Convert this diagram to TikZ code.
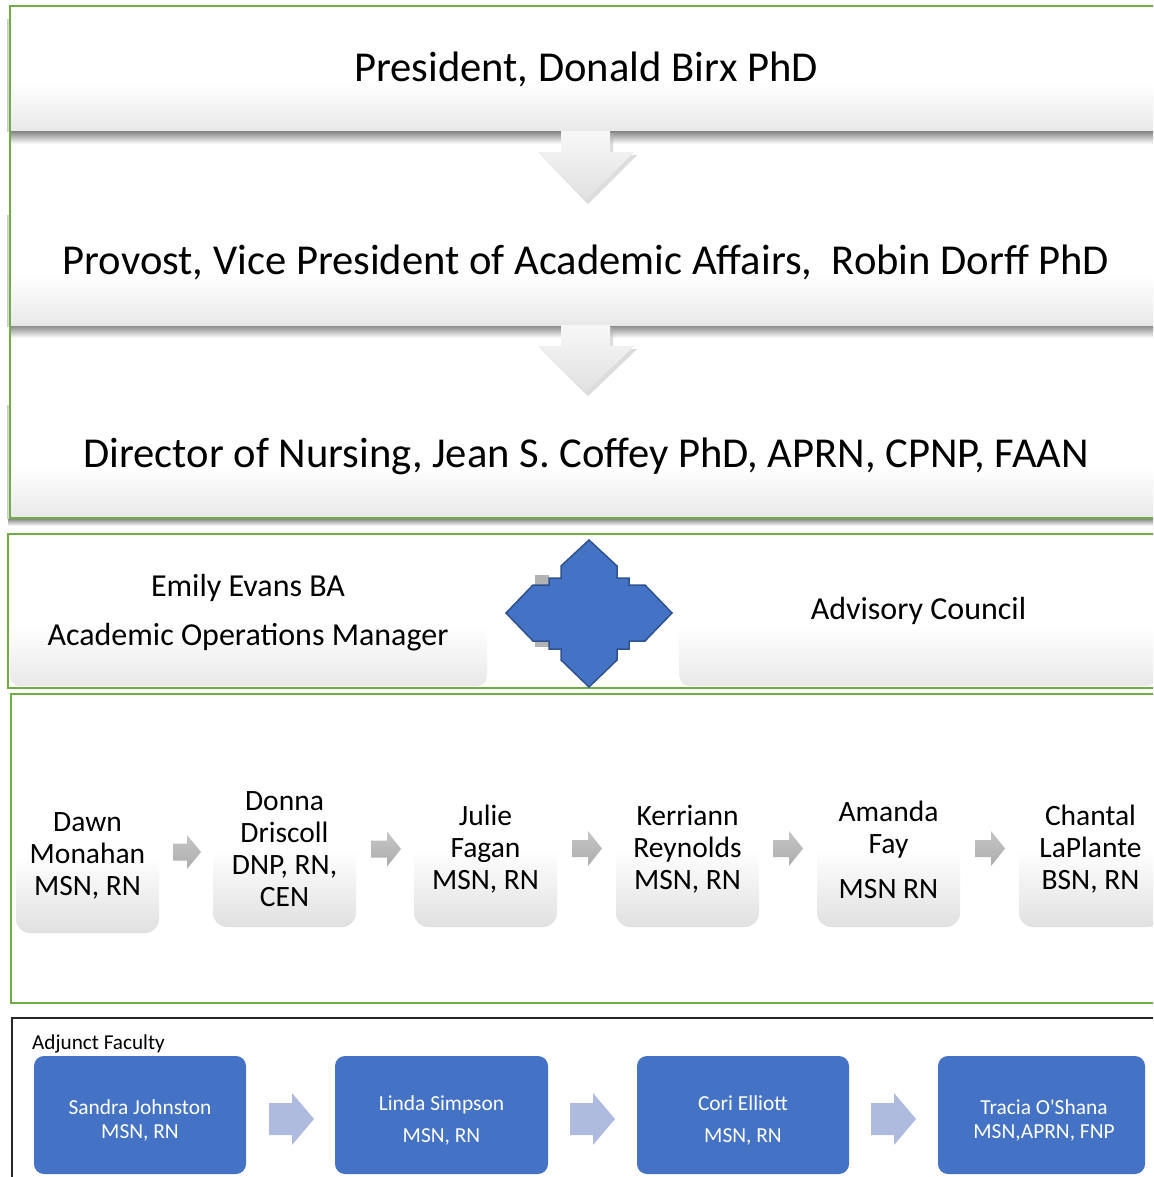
\documentclass[tikz,border=0pt]{standalone}
\usepackage{fontspec}
\setmainfont{Carlito}
\newfontfamily\carlplain{Carlito}
\usetikzlibrary{calc}
\definecolor{grn}{HTML}{70AD47}
\definecolor{blu}{HTML}{4472C4}
\definecolor{bluedge}{HTML}{2F528F}
\definecolor{lblu}{HTML}{AEBBDF}
\definecolor{bgray}{HTML}{E8E8E8}
\definecolor{fgray}{HTML}{E0E0E0}
\pgfdeclareverticalshading{boxshade}{100bp}{color(0bp)=(bgray); color(25bp)=(bgray); color(45bp)=(white); color(100bp)=(white)}
\pgfdeclareverticalshading{facshade}{100bp}{color(0bp)=(fgray); color(25bp)=(fgray); color(52bp)=(white); color(100bp)=(white)}
\pgfdeclareverticalshading{shadowshade}{100bp}{color(0bp)=(white); color(25bp)=(white); color(75bp)=(gray!90); color(100bp)=(gray!90)}
\newcommand{\blockarr}[8]{% #1 style, #2 name, #3 x0, #4 yc, #5 length, #6 shaft half, #7 head half, #8 head length
  \coordinate (#2) at (#3,#4);
  \path[#1] (#2) ++(0,-#6) -- ++({#5-#8},0) -- ++(0,{#6-#7}) -- ++(#8,#7) -- ++(-#8,#7) -- ++(0,{#6-#7}) -- ++({#8-#5},0) -- cycle;
}
\begin{document}
\begin{tikzpicture}[x=1pt,y=-1pt,
  grnframe/.style={draw=grn,line width=2.2pt},
  topbox/.style={shade,shading=boxshade,minimum width=1152,inner sep=0pt},
  toptext/.style={anchor=base,inner sep=0pt,font=\fontsize{42.6}{50}\selectfont},
  midbox/.style={shade,shading=boxshade,rounded corners=10,minimum width=477,minimum height=150,inner sep=0pt},
  midtext/.style={align=center,inner sep=0pt,font=\fontsize{32}{49}\selectfont},
  facbox/.style={shade,shading=facshade,rounded corners=14,minimum width=143,minimum height=143,inner sep=0pt},
  factext/.style={font=\fontsize{29.5}{32}\selectfont,align=center,inner sep=0pt},
  adjbox/.style={fill=blu,rounded corners=10,inner sep=0pt},
  adjtext/.style={text=white,font=\fontsize{21.4}{24}\selectfont,align=center,inner sep=0pt},
  garr/.style={top color=gray!45,bottom color=gray!65},
  barr/.style={fill=lblu},
  warr/.style={top color=white!97!black,bottom color=white!88!black},
  warrshadow/.style={fill=gray!60,opacity=.45},
  shadowstrip/.style={shade,shading=shadowshade},
]
\useasboundingbox (0,0) rectangle (1153,1177);
\clip (0,0) rectangle (1153,1177);
\fill[white] (0,0) rectangle (1153,1177);

% ---------- top section ----------
\shade[left color=gray!40,right color=white] (7,20) rectangle (11,132);
\node[topbox,minimum height=126] (pres) at (586,69) {};
\shade[shadowstrip] (10,144) rectangle (1165,132);
\shade[left color=gray!40,right color=white] (7,215) rectangle (11,326);
\node[topbox,minimum height=128] (prov) at (586,262) {};
\shade[shadowstrip] (10,338) rectangle (1165,326);
\shade[left color=gray!40,right color=white] (7,405) rectangle (11,518);
\node[topbox,minimum height=128] (dir) at (586,454) {};
\shade[shadowstrip] (8,526) rectangle (1165,519);
\node[toptext] (prest) at (586,82) {President, Donald Birx PhD};
\node[toptext] (provt) at (586,274) {Provost, Vice President of Academic Affairs,~~Robin Dorff PhD};
\node[toptext] (dirt) at (586,467) {Director of Nursing, Jean S. Coffey PhD, APRN, CPNP, FAAN};
\draw[grnframe] (10,6) rectangle (1170,518);

\begin{scope}[shift={(pres.south)}]
  \fill[warrshadow] (-22,1) -- (27,1) -- (27,23) -- (51,23) -- (2,72) -- (-45,23) -- (-22,23) -- cycle;
  \path[warr] (-25,-1) -- (24,-1) -- (24,20) -- (48,20) -- (0,68) -- (-48,20) -- (-25,20) -- cycle;
\end{scope}
\begin{scope}[shift={(prov.south)}]
  \fill[warrshadow] (-22,1) -- (27,1) -- (27,23) -- (51,23) -- (2,70) -- (-45,23) -- (-22,23) -- cycle;
  \path[warr] (-25,-1) -- (24,-1) -- (24,20) -- (48,20) -- (0,66) -- (-48,20) -- (-25,20) -- cycle;
\end{scope}

% ---------- second section ----------
\node[midbox] (emily) at (248.5,611) {};
\node[midbox] (adv) at (918,611) {};
\node[midtext] (emilyt) at (248,613) {Emily Evans BA\\Academic Operations Manager};
\node[midtext] (advt) at (918.5,611) {Advisory Council};
\draw[grnframe] (8,534) rectangle (1170,688);
\coordinate (star) at (589,613);
\begin{scope}[shift={(star)}]
  \fill[gray!60] (-54,-38) rectangle (-40,-28);
  \fill[gray!60] (-54,28) rectangle (-40,34);
  \filldraw[fill=blu,draw=bluedge,line width=1.5pt,line join=miter]
    (0,-73) -- (28,-47) -- (28,-35) -- (40,-35) -- (40,-28) -- (56,-28) -- (83,0)
    -- (56,28) -- (40,28) -- (40,36) -- (28,36) -- (28,47) -- (0,74)
    -- (-28,47) -- (-28,36) -- (-40,36) -- (-40,28) -- (-56,28) -- (-83,0)
    -- (-56,-28) -- (-40,-28) -- (-40,-35) -- (-28,-35) -- (-28,-47) -- cycle;
\end{scope}

% ---------- faculty section ----------
\draw[grnframe] (11,694) rectangle (1170,1003);
\node[facbox] (dawn) at (87.5,861.5) {};
\node[facbox] (donna) at (284.5,855.5) {};
\node[facbox] (julie) at (485.5,855.5) {};
\node[facbox] (kerr) at (687.5,855.5) {};
\node[facbox] (amanda) at (888.5,855.5) {};
\node[facbox] (chantal) at (1090.5,855.5) {};
\node[factext] (dawnt) at (87.5,855.5) {Dawn\\Monahan\\MSN, RN};
\node[factext] (donnat) at (284.5,849) {Donna\\Driscoll\\DNP, RN,\\CEN};
\node[factext] (juliet) at (485.5,849.5) {Julie\\Fagan\\MSN, RN};
\node[factext] (kerrt) at (687.5,849.5) {Kerriann\\Reynolds\\MSN, RN};
\node[factext] (amandat) at (888.5,849.5) {Amanda\\Fay\\[13pt]MSN RN};
\node[factext] (chantalt) at (1090.5,849.5) {Chantal\\LaPlante\\BSN, RN};
\blockarr{garr}{g1}{173}{852}{28}{8.5}{17}{14}
\blockarr{garr}{g2}{371}{849}{30}{8.5}{17.5}{14}
\blockarr{garr}{g3}{572}{848.5}{30}{8.5}{17.5}{14}
\blockarr{garr}{g4}{773}{848.5}{30}{8.5}{17.5}{14}
\blockarr{garr}{g5}{975}{848.5}{30}{8.5}{17.5}{14}

% ---------- adjunct section ----------
\draw[black!85,line width=1.3pt] (12,1018) rectangle (1170,1200);
\node[anchor=west,font=\fontsize{21.2}{24}\selectfont,inner sep=0pt] (adjlbl) at (32,1044) {Adjunct Faculty};
\path[adjbox] (34,1174) -- (34,1056) -- (246,1056) -- (246,1174) -- cycle;
\coordinate (sandra) at (140,1118);
\path[adjbox] (335,1174) -- (335,1056) -- (548,1056) -- (548,1174) -- cycle;
\coordinate (linda) at (441.5,1118);
\path[adjbox] (637,1174) -- (637,1056) -- (849,1056) -- (849,1174) -- cycle;
\coordinate (cori) at (743,1118);
\path[adjbox] (938,1174) -- (938,1056) -- (1145,1056) -- (1145,1174) -- cycle;
\coordinate (tracia) at (1041.5,1118);
\node[adjtext] (sandrat) at (140,1120) {Sandra Johnston\\MSN, RN};
\node[adjtext,font=\fontsize{21.4}{32}\selectfont] (lindat) at (441.5,1120) {Linda Simpson\\MSN, RN};
\node[adjtext,font=\fontsize{21.4}{32}\selectfont] (corit) at (743,1120) {Cori Elliott\\MSN, RN};
\node[adjtext] (traciat) at (1044,1120) {Tracia O{\carlplain'}Shana\\MSN,APRN, FNP};
\blockarr{barr}{b1}{269}{1119}{45}{16}{26}{22}
\blockarr{barr}{b2}{570}{1119}{45}{16}{26}{22}
\blockarr{barr}{b3}{871}{1119}{45}{16}{26}{22}
\end{tikzpicture}
\end{document}
